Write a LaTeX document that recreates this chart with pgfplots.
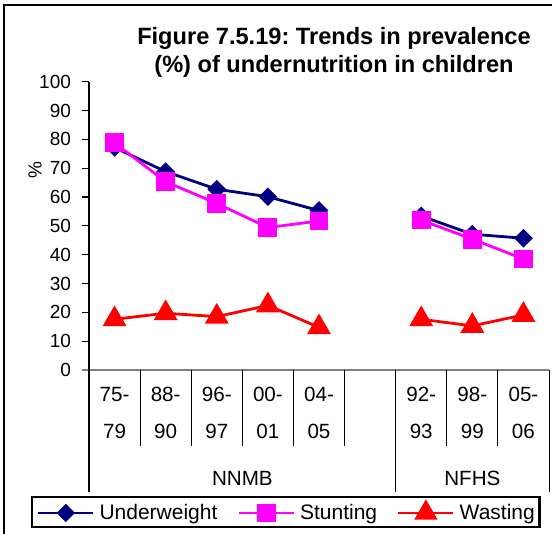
\documentclass[border=0pt]{standalone}
\usepackage{fontspec}
\setmainfont{Liberation Sans}
\frenchspacing
\usepackage{pgfplots}
\pgfplotsset{compat=1.18}
\definecolor{uwblue}{RGB}{0,0,128}
\definecolor{stpink}{RGB}{255,0,255}
\definecolor{wsred}{RGB}{255,0,0}

\begin{document}
\begin{tikzpicture}
\path[use as bounding box] (0,0) rectangle (276pt,-267pt);
% outer frame (right and bottom edges fall outside the page)
\draw[line width=1pt] (2pt,-275pt) -- (2pt,-2.5pt) -- (285pt,-2.5pt);
\node[font=\bfseries\fontsize{11.8}{13.7}\selectfont, align=center] at (167pt,-26.3pt)
  {Figure 7.5.19: Trends in prevalence\\(\%) of undernutrition in children};
\begin{axis}[
    at={(44.5pt,-185pt)}, anchor=south west,
    scale only axis, width=230pt, height=144.15pt,
    clip=false,
    xmin=-0.5, xmax=8.5, ymin=0, ymax=100,
    axis x line=bottom, axis y line=left,
    axis line style={-, line width=0.6pt},
    x axis line style={draw=gray, shorten <=-3.5pt},
    xtick={0,...,8},
    xticklabels={{75-\\79},{88-\\90},{96-\\97},{00-\\01},{04-\\05},{},{92-\\93},{98-\\99},{05-\\06}},
    major x tick style={draw=none},
    xticklabel style={align=center, anchor=north, inner sep=0pt, yshift=-4.5pt,
        font=\fontsize{10.3}{18.5}\selectfont},
    ytick={0,10,...,100},
    tick align=outside,
    major tick length=3.5pt,
    major y tick style={black, line width=0.6pt},
    yticklabel style={font=\fontsize{9.5}{11}\selectfont, xshift=-1.5pt},
    /pgf/number format/assume math mode=true,
    ylabel={\%},
    ylabel style={at={(axis description cs:-0.117,0.694)}, anchor=center,
        font=\fontsize{9.5}{11}\selectfont},
    unbounded coords=jump,
    line width=1.4pt,
    legend columns=3,
    legend style={at={(axis description cs:0.428,-0.4925)}, anchor=center,
        draw=black, font=\fontsize{10.5}{12}\selectfont,
        inner xsep=2.5pt, inner ysep=2.5pt,
        nodes={inner sep=0pt},
        /tikz/every odd column/.append style={column sep=2.5pt},
        /tikz/every even column/.append style={column sep=10pt}},
    legend image code/.code={\draw[line width=1.3pt, mark repeat=2,mark phase=2]
        plot coordinates {(0pt,0pt) (13.75pt,0pt) (27.5pt,0pt)};},
]
\addplot[color=uwblue, mark=square*, mark size=2.6pt, mark options={rotate=45}]
  coordinates {(0,77.2) (1,68.8) (2,62.7) (3,60.1) (4,55.3) (5,nan) (6,53.4) (7,47.1) (8,45.7)};
\addlegendentry{Underweight}
\addplot[color=stpink, mark=square*, mark size=4pt]
  coordinates {(0,78.8) (1,65.3) (2,57.8) (3,49.4) (4,51.7) (5,nan) (6,52.0) (7,45.4) (8,38.5)};
\addlegendentry{Stunting}
\addplot[color=wsred, mark=triangle*, mark size=5.5pt]
  coordinates {(0,17.6) (1,19.7) (2,18.5) (3,22.4) (4,14.8) (5,nan) (6,17.6) (7,15.3) (8,19.1)};
\addlegendentry{Wasting}
% category separators
\draw[line width=0.5pt] (axis cs:0.5,0) -- ([yshift=-38pt]axis cs:0.5,0);
\draw[line width=0.5pt] (axis cs:1.5,0) -- ([yshift=-38pt]axis cs:1.5,0);
\draw[line width=0.5pt] (axis cs:2.5,0) -- ([yshift=-38pt]axis cs:2.5,0);
\draw[line width=0.5pt] (axis cs:3.5,0) -- ([yshift=-38pt]axis cs:3.5,0);
\draw[line width=0.5pt] (axis cs:4.5,0) -- ([yshift=-38pt]axis cs:4.5,0);
\draw[line width=0.5pt] (axis cs:6.5,0) -- ([yshift=-38pt]axis cs:6.5,0);
\draw[line width=0.5pt] (axis cs:7.5,0) -- ([yshift=-38pt]axis cs:7.5,0);
\draw[line width=0.6pt] (axis cs:-0.5,0) -- ([yshift=-61pt]axis cs:-0.5,0);
\draw[line width=0.5pt] (axis cs:5.5,0) -- ([yshift=-61pt]axis cs:5.5,0);
\draw[line width=0.5pt] (axis cs:8.5,0) -- ([yshift=-61pt]axis cs:8.5,0);
\node[font=\fontsize{10.3}{12}\selectfont] at ([yshift=-54pt]axis cs:2.5,0) {NNMB};
\node[font=\fontsize{10.3}{12}\selectfont] at ([yshift=-54pt]axis cs:7,0) {NFHS};
\end{axis}
\end{tikzpicture}
\end{document}
